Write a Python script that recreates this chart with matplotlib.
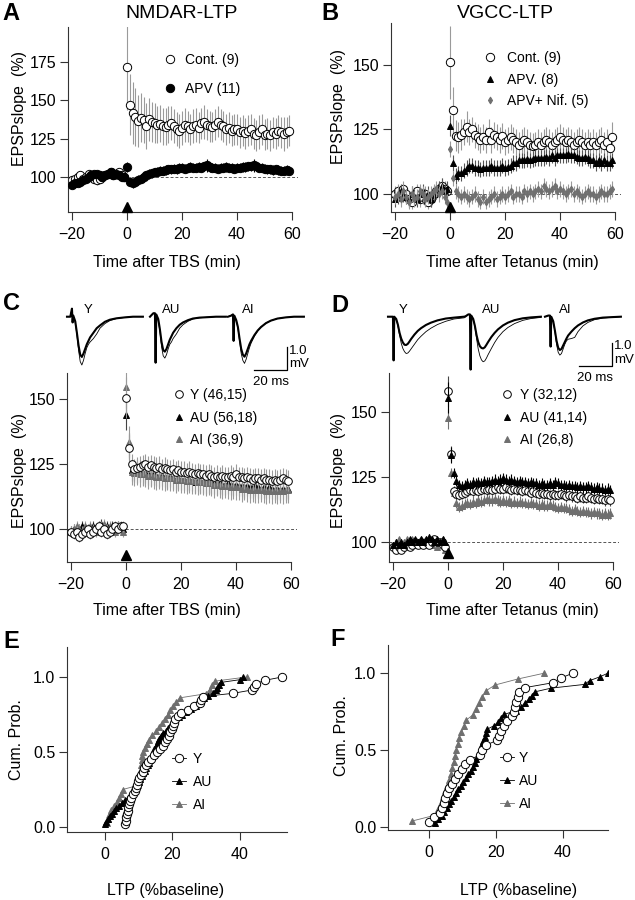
"""
LTP time-courses, sample EPSPs and cumulative LTP distributions (panels A-F)
"""

import numpy as np
import matplotlib
matplotlib.use('Agg')
import matplotlib.pyplot as plt

plt.rcParams['font.family'] = ['Liberation Sans', 'DejaVu Sans']

W, H = 635, 900

# sampling times of the time-course panels (min), 20 baseline + 60 post
t_min = np.arange(-20, 60)

# ---------------- panel A : NMDAR-LTP ----------------
a_cont = [98, 99, 100, 101, 99, 100, 102, 101, 99, 98,
          99, 100, 101, 102, 103, 101, 102, 103, 101, 100,
          171.5, 147, 141.5, 139, 136.5, 138.5, 137, 133, 137.5, 136,
          135, 134, 134.5, 133, 132.5, 134, 135, 133, 131, 130,
          132, 134, 133, 131, 133, 134, 132, 135, 135.5, 134,
          133, 132.5, 134, 136, 134, 133, 131, 132, 130, 131,
          131, 129, 130, 128.5, 130, 131, 128, 127, 129, 131,
          127.5, 128, 127, 129, 128, 130, 129, 128, 129, 130]
a_cont_err = [2, 2, 3, 2, 2, 3, 2, 2, 2, 3,
              2, 2, 3, 2, 2, 2, 3, 2, 2, 2,
              28, 20, 20, 19, 17, 16, 15, 15, 14, 13,
              13, 12, 12, 12, 12, 12, 11, 11, 11, 11,
              11, 11, 10, 10, 11, 11, 10, 10, 11, 10,
              10, 10, 10, 10, 10, 10, 10, 10, 10, 10,
              10, 10, 10, 10, 10, 10, 10, 10, 11, 10,
              10, 10, 10, 10, 10, 10, 10, 11, 10, 10]
a_apv = [95, 96, 96, 97, 98, 99, 100, 101, 102, 102,
         101, 100, 101, 102, 103, 101, 102, 101, 100, 100,
         106.5, 97, 96, 97, 98, 99, 100, 101, 102, 102.5,
         103, 103.5, 104, 104, 104.5, 105, 105, 105.5, 105, 106,
         106, 105.5, 106, 106.5, 106, 106, 106.5, 106, 107, 107.5,
         106.5, 106, 106, 105.5, 106, 106, 106.5, 106, 106, 105.5,
         106, 106, 106.5, 106.5, 107, 107, 107.5, 107, 106, 106,
         105.5, 105, 105, 104.5, 105, 104.5, 104, 104, 104.5, 104]
a_apv_err = [2, 2, 2, 2, 2, 2, 2, 2, 2, 2,
             2, 2, 2, 2, 2, 2, 2, 2, 2, 2,
             3, 3, 3, 3, 3, 3, 3, 3, 3, 3,
             3, 3, 3, 3, 3, 3, 3, 3, 3, 3,
             3, 3, 3, 3, 3, 3, 3, 3, 3, 4,
             3, 3, 3, 3, 3, 3, 3, 3, 3, 3,
             3, 3, 3, 3, 3, 3, 4, 3, 3, 3,
             3, 3, 3, 3, 3, 3, 3, 3, 3, 3]

# ---------------- panel B : VGCC-LTP ----------------
b_cont = [100, 101, 99, 102, 100, 98, 97, 99, 101, 98,
          99, 100, 97, 98, 100, 101, 102, 103, 102, 101,
          151, 132.5, 122.5, 122, 123, 124, 126, 124, 125, 123,
          122, 121, 122, 121, 124, 121, 123, 122, 121, 122.5,
          120, 121, 122, 121, 120, 119, 120, 121, 120, 119,
          118.5, 119, 120, 119, 120, 121, 120, 119, 120, 121,
          122, 121, 120, 121, 120, 119, 120, 121, 120, 119,
          120, 119, 120, 119, 120, 121, 119, 120, 118, 122]
b_cont_err = [3, 3, 3, 3, 3, 3, 3, 3, 3, 3,
              3, 3, 3, 3, 3, 3, 3, 3, 3, 3,
              14, 9, 6, 6, 6, 5, 6, 5, 5, 5,
              5, 5, 5, 5, 5, 5, 5, 5, 5, 5,
              5, 5, 5, 5, 5, 5, 5, 5, 5, 5,
              5, 5, 5, 5, 5, 5, 5, 5, 5, 5,
              5, 5, 5, 5, 5, 5, 5, 5, 5, 5,
              5, 5, 5, 5, 5, 5, 5, 5, 5, 6]
b_apv = [98, 99, 101, 100, 99, 98, 100, 99, 98, 100,
         101, 99, 100, 98, 100, 101, 102, 103, 101, 102,
         126.5, 112, 107, 108, 108, 109, 110, 111, 111, 110,
         110, 109.5, 110, 110, 110, 111, 110, 110, 110, 111,
         110, 110.5, 111, 112, 112, 113, 113, 113, 113.5, 113,
         113.5, 114, 114, 114, 114, 114.5, 114, 115, 114, 115,
         115, 115, 115, 115.5, 115, 115, 114.5, 114, 114, 114.5,
         114, 113, 113, 112, 113, 112, 113, 112, 112, 113]
b_apv_err = [3, 3, 3, 3, 3, 3, 3, 3, 3, 3,
             3, 3, 3, 3, 3, 3, 3, 3, 3, 3,
             4, 3, 3, 3, 3, 3, 3, 3, 3, 3,
             3, 3, 3, 3, 3, 3, 3, 3, 3, 3,
             3, 3, 3, 3, 3, 3, 3, 3, 3, 3,
             3, 3, 3, 3, 3, 3, 3, 3, 3, 3,
             3, 3, 3, 3, 3, 3, 3, 3, 3, 3,
             3, 3, 3, 3, 3, 3, 3, 3, 3, 3]
b_nif = [99, 100, 98, 101, 99, 97, 100, 98, 99, 101,
         100, 98, 99, 100, 101, 102, 100, 101, 99, 97,
         117.5, 106, 101, 100, 99, 100, 99, 98, 99, 100,
         98, 97, 99, 97, 98, 99, 100, 98, 99, 100,
         99, 100, 101, 99, 100, 100, 99, 101, 100, 101,
         100, 101, 102, 101, 103, 102, 101, 102, 103, 101,
         102, 101, 100, 101, 102, 100, 101, 100, 99, 100,
         101, 100, 100, 99, 100, 101, 100, 100, 101, 102]
b_nif_err = [3, 3, 3, 3, 3, 3, 3, 3, 3, 3,
             3, 3, 3, 3, 3, 3, 3, 3, 3, 3,
             3, 3, 3, 3, 3, 3, 3, 3, 3, 3,
             3, 3, 3, 3, 3, 3, 3, 3, 3, 3,
             3, 3, 3, 3, 3, 3, 3, 3, 3, 3,
             3, 3, 3, 3, 3, 3, 3, 3, 3, 3,
             3, 3, 3, 3, 3, 3, 3, 3, 3, 3,
             3, 3, 3, 3, 3, 3, 3, 3, 3, 3]

# ---------------- panel C : TBS, Y / AU / AI ----------------
c_y = [99, 98, 99, 97, 98, 99, 100, 98, 99, 100,
       101, 99, 100, 98, 99, 100, 101, 100, 101, 101,
       150.5, 131, 125, 123, 123.5, 124, 124.5, 125, 124, 124.5,
       124, 123.5, 124, 123, 123.5, 123, 122.5, 123, 122, 122.5,
       122, 122, 121.5, 122, 121.5, 121, 121.5, 121, 121, 120.5,
       121, 120.5, 120, 120.5, 120, 120.5, 120, 120, 120.5, 120,
       121, 120, 120, 119.5, 120, 119.5, 119, 119.5, 119.5, 119,
       119.5, 119, 119, 118.5, 119, 118.5, 119, 119.5, 119, 118.5]
c_y_err = [2, 2, 2, 2, 2, 2, 2, 2, 2, 2,
           2, 2, 2, 2, 2, 2, 2, 2, 2, 2,
           8, 5, 4, 4, 4, 4, 4, 4, 4, 4,
           4, 4, 4, 4, 4, 4, 4, 4, 4, 4,
           4, 4, 4, 4, 4, 4, 4, 4, 4, 4,
           4, 4, 4, 4, 4, 4, 4, 4, 4, 4,
           4, 4, 4, 4, 4, 4, 4, 4, 4, 4,
           4, 4, 4, 4, 4, 4, 4, 4, 4, 4]
c_au = [99, 100, 99, 100, 101, 100, 99, 100, 101, 100,
        101, 102, 100, 101, 100, 101, 100, 101, 100, 100,
        144, 132, 122.5, 122, 121.5, 122, 121, 121.5, 121, 120.5,
        121, 120.5, 120, 120.5, 120, 119.5, 120, 119.5, 119, 119.5,
        119, 119, 118.5, 119, 118.5, 118, 118.5, 118, 118, 117.5,
        118, 117.5, 117.5, 117, 117.5, 117, 117, 117.5, 117, 116.5,
        117, 116.5, 116.5, 116, 116.5, 116, 116, 116.5, 116, 115.5,
        116, 115.5, 116, 115.5, 115, 115.5, 115, 115.5, 115, 115.5]
c_au_err = [2, 2, 2, 2, 2, 2, 2, 2, 2, 2,
            2, 2, 2, 2, 2, 2, 2, 2, 2, 2,
            6, 5, 4, 4, 4, 4, 4, 4, 4, 4,
            4, 4, 4, 4, 4, 4, 4, 4, 4, 4,
            4, 4, 4, 4, 4, 4, 4, 4, 4, 4,
            4, 4, 4, 4, 4, 4, 4, 4, 4, 4,
            4, 4, 4, 4, 4, 4, 4, 4, 4, 4,
            4, 4, 4, 4, 4, 4, 4, 4, 4, 4]
c_ai = [99, 100, 101, 100, 99, 101, 100, 101, 100, 99,
        100, 101, 102, 100, 101, 100, 99, 101, 100, 99,
        154.5, 133.5, 122, 121.5, 122, 121, 121.5, 121, 120.5, 121,
        120.5, 120, 120.5, 120, 119.5, 120, 119.5, 119.5, 119, 119.5,
        119, 119, 118.5, 119, 118.5, 118.5, 118, 118.5, 118, 117.5,
        118, 117.5, 117, 117.5, 117, 116.5, 117, 116.5, 116, 116.5,
        116, 116, 115.5, 116, 115.5, 115, 115.5, 115, 115, 115.5,
        115, 114.5, 115, 114.5, 115, 114.5, 115, 114.5, 115, 115]
c_ai_err = [2, 2, 2, 2, 2, 2, 2, 2, 2, 2,
            2, 2, 2, 2, 2, 2, 2, 2, 2, 2,
            8, 6, 5, 5, 5, 5, 5, 5, 5, 5,
            5, 5, 5, 5, 5, 5, 5, 5, 5, 5,
            5, 5, 5, 5, 5, 5, 5, 5, 5, 5,
            5, 5, 5, 5, 5, 5, 5, 5, 5, 5,
            5, 5, 5, 5, 5, 5, 5, 5, 5, 5,
            5, 5, 5, 5, 5, 5, 5, 5, 5, 5]

# ---------------- panel D : tetanus, Y / AU / AI ----------------
d_y = [98, 97, 98, 97, 98, 99, 98, 99, 100, 99,
       100, 99, 100, 99, 100, 101, 100, 100, 99, 98,
       158, 134, 119.5, 118.5, 118, 118.5, 119, 119.5, 120, 119.5,
       120, 119.5, 120, 120.5, 120, 120.5, 120, 120.5, 121, 120.5,
       120.5, 121, 120.5, 120, 120.5, 120, 120, 119.5, 120, 119.5,
       119, 119.5, 119, 118.5, 119, 118.5, 118.5, 118, 118.5, 118,
       118, 118.5, 118, 117.5, 118, 117.5, 117.5, 117, 117.5, 117,
       117, 117.5, 117, 116.5, 117, 116.5, 116.5, 116, 116.5, 116]
d_y_err = [1, 1, 1, 1, 1, 1, 1, 1, 1, 1,
           1, 1, 1, 1, 1, 1, 1, 1, 1, 1,
           6, 3, 2, 2, 2, 2, 2, 2, 2, 2,
           2, 2, 2, 2, 2, 2, 2, 2, 2, 2,
           2, 2, 2, 2, 2, 2, 2, 2, 2, 2,
           2, 2, 2, 2, 2, 2, 2, 2, 2, 2,
           2, 2, 2, 2, 2, 2, 2, 2, 2, 2,
           2, 2, 2, 2, 2, 2, 2, 2, 2, 2]
d_au = [99, 100, 99, 100, 99, 100, 101, 100, 101, 100,
        101, 100, 101, 102, 101, 100, 101, 100, 101, 100,
        155.5, 133.5, 126.5, 123.5, 122, 121.5, 122, 122.5, 122, 123,
        122.5, 123, 122.5, 123.5, 123, 123, 123.5, 124, 123.5, 124,
        124.5, 124, 123.5, 124, 123.5, 123, 123.5, 123, 123, 122.5,
        123, 122.5, 122.5, 122, 122.5, 122, 122, 122.5, 122, 123,
        122.5, 122, 122, 121.5, 122, 121.5, 121.5, 121, 121.5, 121,
        121, 121.5, 121, 120.5, 121, 120.5, 120.5, 120, 120.5, 120]
d_au_err = [1, 1, 1, 1, 1, 1, 1, 1, 1, 1,
            1, 1, 1, 1, 1, 1, 1, 1, 1, 1,
            6, 3, 2, 2, 2, 2, 2, 2, 2, 2,
            2, 2, 2, 2, 2, 2, 2, 2, 2, 2,
            2, 2, 2, 2, 2, 2, 2, 2, 2, 2,
            2, 2, 2, 2, 2, 2, 2, 2, 2, 2,
            2, 2, 2, 2, 2, 2, 2, 2, 2, 2,
            2, 2, 2, 2, 2, 2, 2, 2, 2, 2]
d_ai = [99, 100, 101, 99, 100, 101, 100, 101, 100, 99,
        101, 100, 101, 100, 99, 100, 98, 100, 101, 97,
        147.5, 126.5, 119, 115, 113.5, 114, 114.5, 115, 114.5, 115.5,
        115, 116, 115.5, 116, 116.5, 116, 116, 116.5, 116, 115.5,
        116, 115.5, 116, 115, 115.5, 115, 115.5, 115, 115, 114.5,
        115, 114.5, 114.5, 114, 114.5, 114, 114, 114.5, 114, 113.5,
        113, 113.5, 113, 113, 112.5, 112, 112.5, 112, 111.5, 112,
        111.5, 111.5, 111, 111.5, 111, 111, 110.5, 111, 110.5, 111]
d_ai_err = [1, 1, 1, 1, 1, 1, 1, 1, 1, 1,
            1, 1, 1, 1, 1, 1, 1, 1, 1, 1,
            4, 2, 2, 2, 2, 2, 2, 2, 2, 2,
            2, 2, 2, 2, 2, 2, 2, 2, 2, 2,
            2, 2, 2, 2, 2, 2, 2, 2, 2, 2,
            2, 2, 2, 2, 2, 2, 2, 2, 2, 2,
            2, 2, 2, 2, 2, 2, 2, 2, 2, 2,
            2, 2, 2, 2, 2, 2, 2, 2, 2, 2]

# level of the stimulation arrowhead drawn at t = 0 in A, B, C, D
stim_level = [80.5, 95, 90, 95.8]

# ---------------- sample EPSPs (ms, mV) ----------------
tr_t = [0, 2, 3, 3.4, 3.8, 5, 6, 7, 8, 9, 10, 11, 12, 13, 14, 16, 18, 20,
        23, 26, 30, 35, 40, 46]
c_tr = {
    'Y': ([0, 0, 0.35, -0.25, 0.05, -0.2, -0.7, -1.25, -1.65, -1.75, -1.6, -1.4,
           -1.2, -1.05, -0.9, -0.7, -0.5, -0.38, -0.22, -0.13, -0.07, -0.03, 0, 0],
          [0, 0, 0.35, -0.25, 0.05, -0.25, -0.8, -1.45, -1.95, -2.1, -1.9, -1.6,
           -1.35, -1.2, -1.1, -0.95, -0.75, -0.5, -0.3, -0.17, -0.08, -0.03, 0, 0]),
    'AU': ([0, 0.15, 0.15, -2.0, 0.1, -0.1, -0.55, -1.1, -1.45, -1.52, -1.4, -1.2,
            -1.0, -0.85, -0.7, -0.5, -0.35, -0.25, -0.15, -0.08, -0.04, -0.02, 0, 0],
           [0, 0.15, 0.15, -2.0, 0.1, -0.15, -0.65, -1.3, -1.7, -1.8, -1.65, -1.4,
            -1.2, -1.1, -0.95, -0.75, -0.5, -0.35, -0.2, -0.1, -0.05, -0.02, 0, 0]),
    'AI': ([0, 0.05, 0.1, -1.05, 0.05, -0.15, -0.45, -0.95, -1.4, -1.65, -1.74, -1.6,
            -1.4, -1.2, -1.05, -0.8, -0.6, -0.45, -0.28, -0.17, -0.08, -0.03, 0, 0],
           [0, 0.05, 0.1, -1.05, 0.05, -0.15, -0.5, -1.05, -1.6, -1.9, -2.03, -1.85,
            -1.6, -1.35, -1.15, -0.85, -0.62, -0.45, -0.28, -0.17, -0.08, -0.03, 0, 0]),
}
d_tr = {
    'Y': ([0, 0, 0, -1.9, 0, -0.1, -0.35, -0.7, -0.95, -1.12, -1.22, -1.23,
           -1.18, -1.08, -0.97, -0.78, -0.62, -0.5, -0.36, -0.26, -0.16, -0.08, -0.04, 0],
          [0, 0, 0, -1.9, 0, -0.1, -0.4, -0.8, -1.15, -1.38, -1.52, -1.6,
           -1.58, -1.5, -1.4, -1.2, -1.0, -0.85, -0.65, -0.5, -0.34, -0.2, -0.1, -0.05]),
    'AU': ([0, 0.1, 0.1, -2.3, 0.05, -0.1, -0.4, -0.8, -1.1, -1.28, -1.36, -1.38,
            -1.33, -1.22, -1.1, -0.88, -0.7, -0.55, -0.38, -0.26, -0.15, -0.07, -0.03, 0],
           [0, 0.1, 0.1, -2.3, 0.05, -0.1, -0.45, -0.95, -1.4, -1.7, -1.88, -1.96,
            -1.92, -1.8, -1.65, -1.38, -1.12, -0.9, -0.65, -0.47, -0.3, -0.16, -0.08, -0.03]),
    'AI': ([0, 0.05, 0.05, -1.3, 0, -0.2, -0.6, -1.05, -1.35, -1.45, -1.4, -1.25,
            -1.1, -0.95, -0.82, -0.65, -0.5, -0.38, -0.25, -0.16, -0.09, -0.04, -0.02, 0],
           [0, 0.05, 0.05, -1.3, 0, -0.2, -0.65, -1.2, -1.55, -1.67, -1.6, -1.4,
            -1.2, -1.05, -0.98, -0.95, -0.9, -0.65, -0.4, -0.25, -0.13, -0.06, -0.03, 0]),
}
scale_ms, scale_mv = 20, 1.0

# ---------------- panels E, F : LTP per cell (% above baseline) ----------------
e_y = [5.9, 6.1, 6.3, 6.5, 6.7, 6.9, 7.1, 7.4, 7.8, 8.3,
       8.8, 9.2, 9.5, 9.8, 10.1, 10.6, 11.2, 11.6, 12.1, 12.8,
       13.6, 14.4, 15.4, 16.2, 17.1, 17.8, 18.4, 18.9, 19.4, 19.9,
       20.3, 20.5, 20.8, 21.5, 22.5, 24.5, 26.5, 28.2, 28.6, 29.0,
       38.0, 43.5, 44.2, 44.8, 47.5, 52.5]
e_au = [0.0, 0.4, 0.9, 1.4, 2.0, 2.6, 3.3, 4.1, 4.9, 5.8,
        6.7, 7.3, 7.9, 8.5, 9.0, 9.5, 10.0, 10.5, 11.0, 11.4,
        11.8, 12.2, 12.6, 13.0, 13.3, 13.7, 14.0, 14.3, 14.6, 15.0,
        15.3, 15.6, 16.0, 16.5, 17.2, 18.0, 18.8, 19.5, 20.0, 20.7,
        21.8, 22.8, 24.0, 25.5, 27.0, 27.5, 28.5, 29.5, 30.5, 32.0,
        32.8, 33.3, 33.8, 34.5, 40.0, 41.0]
e_ai = [0.5, 0.9, 1.3, 1.9, 2.7, 3.5, 4.2, 4.8, 5.2, 9.8,
        10.1, 10.3, 10.5, 10.6, 10.8, 10.9, 11.1, 11.4, 11.8, 12.3,
        13.0, 14.0, 15.2, 16.0, 17.0, 17.7, 18.6, 19.4, 20.2, 21.0,
        22.2, 30.0, 31.0, 31.8, 32.5, 42.0]
f_y = [0.0, 1.5, 3.2, 4.0, 4.5, 4.9, 5.3, 6.0, 7.0, 7.8,
       8.8, 9.8, 10.8, 12.3, 15.3, 16.0, 17.0, 20.3, 20.8, 21.6,
       22.3, 23.3, 24.8, 25.3, 25.7, 26.1, 26.5, 27.0, 28.8, 37.0,
       39.5, 43.0]
f_au = [1.7, 2.8, 3.8, 4.6, 5.3, 6.0, 6.7, 7.4, 8.1, 8.8,
        9.6, 10.3, 11.1, 11.8, 12.5, 13.2, 13.7, 14.2, 14.6, 15.0,
        15.5, 15.9, 16.3, 16.7, 17.0, 17.3, 19.5, 20.7, 21.5, 22.5,
        26.0, 27.5, 28.6, 29.8, 30.7, 31.6, 36.5, 46.5, 48.0, 51.0,
        53.5]
f_ai = [-5.0, 2.0, 2.8, 3.5, 4.2, 4.8, 5.5, 6.0, 6.5, 7.0,
        7.4, 7.8, 8.2, 8.6, 9.0, 9.7, 10.6, 11.0, 13.3, 14.2,
        15.0, 16.0, 17.0, 19.8, 26.5, 34.5]

GRAY = '#6f6f6f'
EGRAY = '#9a9a9a'
SPINE = '#333333'
LEG_FS = 10


def px_axes(fig, left, top, right, bottom):
    # axes placed by pixel edges (origin top-left)
    return fig.add_axes([left / W, 1 - bottom / H, (right - left) / W, (bottom - top) / H])


def fig_text(fig, x, y, s, **kw):
    return fig.text(x / W, 1 - y / H, s, **kw)


def style_axes(ax, xbounds=None):
    for side in ['top', 'right']:
        ax.spines[side].set_visible(False)
    for side in ['left', 'bottom']:
        ax.spines[side].set_color(SPINE)
        ax.spines[side].set_linewidth(0.8)
    if xbounds is not None:
        ax.spines['bottom'].set_bounds(*xbounds)
    ax.tick_params(axis='both', direction='out', length=5.5, width=0.8,
                   color=SPINE, labelsize=11.5)
    ax.tick_params(axis='x', pad=5)
    ax.tick_params(axis='y', pad=3)


def time_course(ax, ylim, yticks, stim_y):
    ax.set_xlim(-21.5, 62)
    ax.set_ylim(*ylim)
    ax.set_xticks([-20, 0, 20, 40, 60])
    ax.set_yticks(yticks)
    style_axes(ax, (-21.5, 60))
    ax.axhline(100, color='#555555', lw=0.7, ls=(0, (3, 2)), zorder=0)
    ax.plot([0], [stim_y], marker='^', color='k', ms=7, ls='none', clip_on=False, zorder=6)


def series(ax, y, err, marker, face, edge, ms, ecolor, z, label):
    ax.errorbar(t_min, y, yerr=err, fmt='none', ecolor=ecolor, elinewidth=0.8,
                capsize=0, zorder=z)
    line, = ax.plot(t_min, y, ls='none', marker=marker, mfc=face, mec=edge,
                    mew=0.7, ms=ms, zorder=z + 0.5, label=label)
    return line


def cum_prob(ax, values, marker, face, edge, ms, lcolor, label, z):
    v = np.sort(values)
    p = np.arange(1, len(v) + 1) / len(v)
    line, = ax.plot(v, p, color=lcolor, lw=0.6, marker=marker, mfc=face, mec=edge,
                    mew=0.7, ms=ms, zorder=z, label=label)
    return line


def legend(ax, handles, anchor, spacing, textpad):
    ax.legend(handles=handles, loc='upper left', bbox_to_anchor=anchor, frameon=False,
              fontsize=LEG_FS, handlelength=1.0, handletextpad=textpad,
              labelspacing=spacing, borderpad=0, borderaxespad=0)


def traces(fig, lefts, base_y, data, labels_at, bar):
    # one small axes per sample, shared ms/mV scale: 1.65 px per ms, 23 px per mV
    axes = []
    for left, (name, (pre, post)), lab in zip(lefts, data.items(), labels_at):
        ax = px_axes(fig, left, base_y - 0.6 * 23, left + 46 * 1.65, base_y + 2.7 * 23)
        ax.set_xlim(0, 46)
        ax.set_ylim(-2.7, 0.6)
        ax.axis('off')
        ax.plot(tr_t, pre, color='k', lw=1.5, clip_on=False)
        ax.plot(tr_t, post, color='k', lw=0.6, clip_on=False)
        ax.text(lab, 0.3, name, fontsize=9.5, ha='center', va='center')
        axes.append(ax)
    # scale bars on the last one
    ax = axes[-1]
    bx, by = bar
    ax.plot([bx - scale_ms, bx, bx], [by - scale_mv, by - scale_mv, by],
            color='k', lw=0.9, clip_on=False)
    ax.text(bx + 1.2, by - 0.15, '%.1f' % scale_mv, fontsize=9.5, va='center', ha='left')
    ax.text(bx + 1.2, by - 0.75, 'mV', fontsize=9.5, va='center', ha='left')
    ax.text(bx - scale_ms / 2, by - scale_mv - 0.52, '%d ms' % scale_ms,
            fontsize=9.5, ha='center', va='center')


fig = plt.figure(figsize=(W / 100, H / 100), dpi=100)

# ---- A ----
ax = px_axes(fig, 68, 27, 297.5, 212)
time_course(ax, (77.3, 197.4), [100, 125, 150, 175], stim_level[0])
h1 = series(ax, a_cont, a_cont_err, 'o', 'white', 'k', 6, EGRAY, 2, 'Cont. (9)')
h2 = series(ax, a_apv, a_apv_err, 'o', 'k', 'k', 6, 'k', 3, 'APV (11)')
legend(ax, [h1, h2], (0.414, 0.86), 1.1, 0.58)

# ---- B ----
ax = px_axes(fig, 391, 23, 620.5, 212)
time_course(ax, (93, 166.3), [100, 125, 150], stim_level[1])
h1 = series(ax, b_cont, b_cont_err, 'o', 'white', 'k', 6, EGRAY, 2, 'Cont. (9)')
h2 = series(ax, b_apv, b_apv_err, '^', 'k', 'k', 5, '#555555', 3, 'APV. (8)')
h3 = series(ax, b_nif, b_nif_err, 'd', GRAY, GRAY, 3.5, EGRAY, 4, 'APV+ Nif. (5)')
legend(ax, [h1, h2, h3], (0.401, 0.852), 0.55, 0.72)

# ---- C ----
ax = px_axes(fig, 67, 373, 296.5, 562)
time_course(ax, (87.3, 160), [100, 125, 150], stim_level[2])
h2 = series(ax, c_au, c_au_err, '^', 'k', 'k', 5, '#444444', 2, 'AU (56,18)')
h3 = series(ax, c_ai, c_ai_err, '^', GRAY, GRAY, 5, EGRAY, 3, 'AI (36,9)')
h1 = series(ax, c_y, c_y_err, 'o', 'white', 'k', 5.5, EGRAY, 4, 'Y (46,15)')
legend(ax, [h1, h2, h3], (0.458, 0.92), 0.62, 0.3)
traces(fig, [67, 150, 228], 316.7, c_tr, [13, 13, 12], (35.8, -1.32))

# ---- D ----
ax = px_axes(fig, 389, 373, 618.5, 562)
time_course(ax, (92.3, 165), [100, 125, 150], stim_level[3])
h3 = series(ax, d_ai, d_ai_err, '^', GRAY, GRAY, 5, GRAY, 2, 'AI (26,8)')
h1 = series(ax, d_y, d_y_err, 'o', 'white', 'k', 5.5, '#444444', 3, 'Y (32,12)')
h2 = series(ax, d_au, d_au_err, '^', 'k', 'k', 5, 'k', 4, 'AU (41,14)')
legend(ax, [h1, h2, h3], (0.483, 0.92), 0.62, 0.43)
traces(fig, [388, 465, 545], 316.7, d_tr, [9, 16, 12], (40.6, -1.14))

# ---- E ----
ax = px_axes(fig, 67, 647, 287, 832)
ax.set_xlim(-11.3, 54)
ax.set_ylim(-0.033, 1.2)
style_axes(ax)
ax.set_xticks([0, 20, 40])
ax.set_yticks([0, 0.5, 1.0])
ax.set_yticklabels(['0.0', '0.5', '1.0'])
h3 = cum_prob(ax, e_ai, '^', GRAY, GRAY, 5, GRAY, 'AI', 2)
h2 = cum_prob(ax, e_au, '^', 'k', 'k', 5, 'k', 'AU', 3)
h1 = cum_prob(ax, e_y, 'o', 'white', 'k', 6, 'k', 'Y', 4)
legend(ax, [h1, h2, h3], (0.477, 0.432), 0.65, 0.5)

# ---- F ----
ax = px_axes(fig, 388, 645, 608, 830)
ax.set_xlim(-12.2, 53.5)
ax.set_ylim(-0.02, 1.183)
style_axes(ax)
ax.set_xticks([0, 20, 40])
ax.set_yticks([0, 0.5, 1.0])
ax.set_yticklabels(['0.0', '0.5', '1.0'])
h3 = cum_prob(ax, f_ai, '^', GRAY, GRAY, 5, GRAY, 'AI', 2)
h2 = cum_prob(ax, f_au, '^', 'k', 'k', 5, 'k', 'AU', 3)
h1 = cum_prob(ax, f_y, 'o', 'white', 'k', 6, 'k', 'Y', 4)
legend(ax, [h1, h2, h3], (0.509, 0.427), 0.65, 0.36)

# ---- labels ----
for x, y, s in [(11, 13, 'A'), (330, 13, 'B'), (11, 303, 'C'),
                (340, 305, 'D'), (11, 642, 'E'), (338, 640, 'F')]:
    fig_text(fig, x, y, s, fontsize=17, fontweight='bold', ha='center', va='center')
fig_text(fig, 182, 14, 'NMDAR-LTP', fontsize=14, ha='center', va='center')
fig_text(fig, 505, 14, 'VGCC-LTP', fontsize=14, ha='center', va='center')

for x, y, s in [(167, 263, 'Time after TBS (min)'), (512, 263, 'Time after Tetanus (min)'),
                (167, 610, 'Time after TBS (min)'), (512, 610, 'Time after Tetanus (min)'),
                (166, 890, 'LTP (%baseline)'), (519, 890, 'LTP (%baseline)')]:
    fig_text(fig, x, y, s, fontsize=11.5, ha='center', va='center')

for x, y, s in [(20, 108, 'EPSPslope  (%)'), (339, 107, 'EPSPslope  (%)'),
                (20, 470, 'EPSPslope  (%)'), (339, 470, 'EPSPslope  (%)'),
                (17, 740, 'Cum. Prob.'), (342, 736, 'Cum. Prob.')]:
    fig_text(fig, x, y, s, fontsize=11.5, ha='center', va='center', rotation=90)

plt.savefig('out.png', dpi=100)
